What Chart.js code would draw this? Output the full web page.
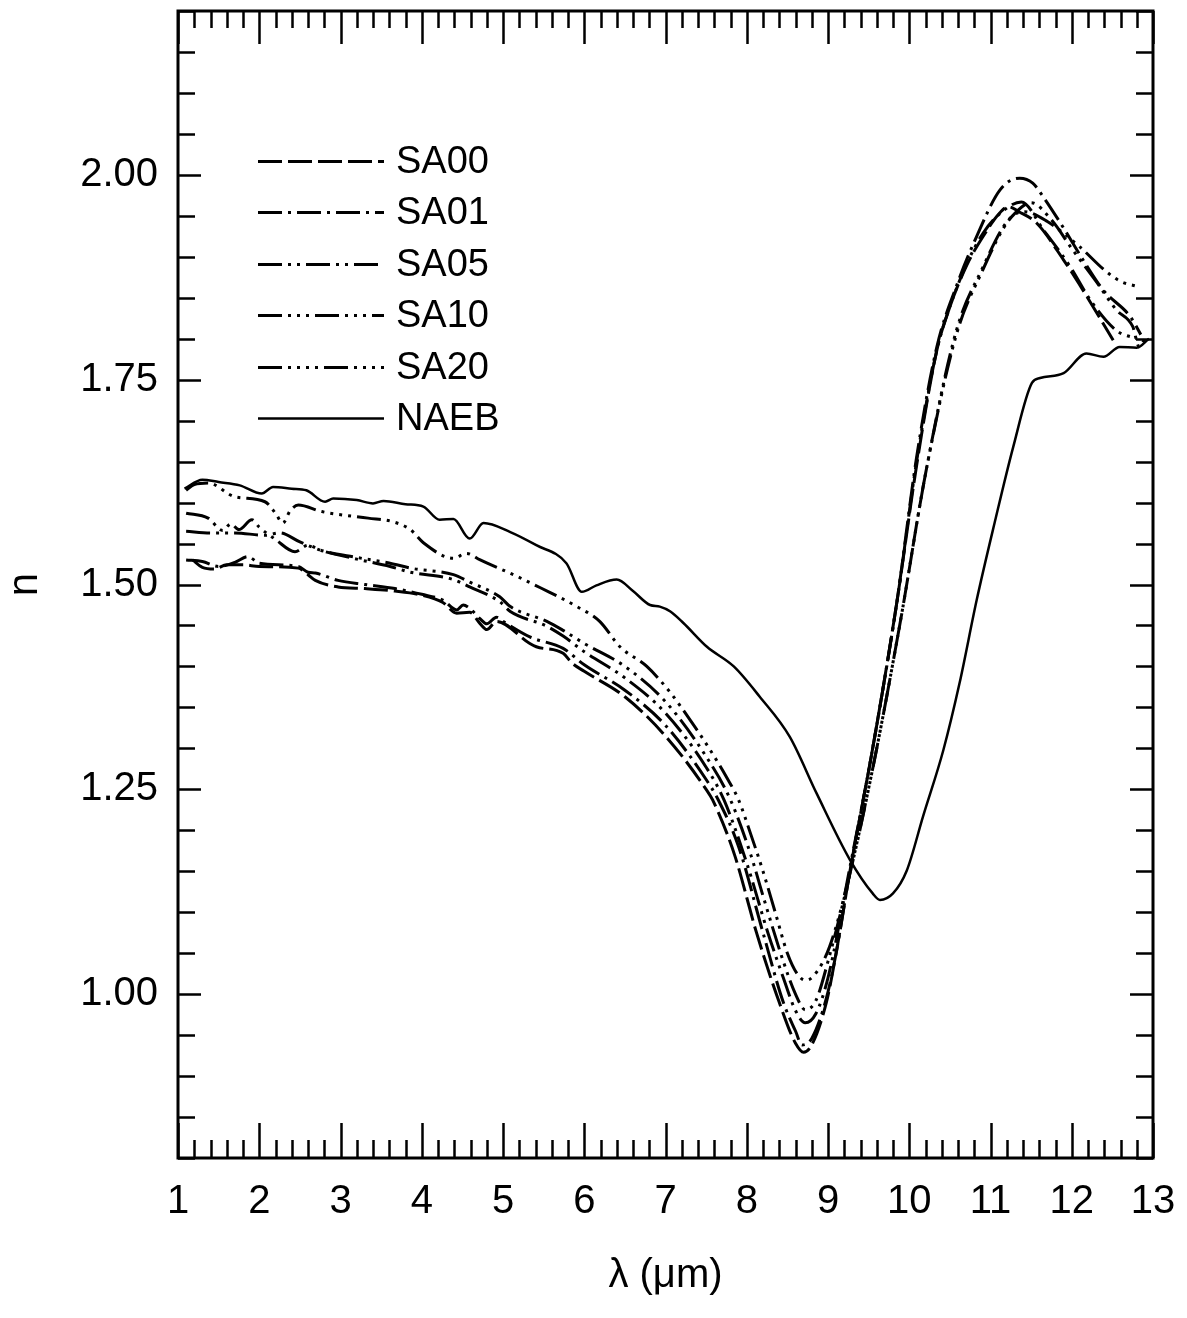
<!DOCTYPE html>
<html>
<head>
<meta charset="utf-8">
<script src="https://cdn.jsdelivr.net/npm/chart.js@4.4.0/dist/chart.umd.min.js"></script>
<style>
html,body{margin:0;padding:0;background:#fff;}
#wrap{width:1187px;height:1318px;}
</style>
</head>
<body>
<div id="wrap"><canvas id="c" width="1187" height="1318"></canvas></div>
<script>
// ---- data (wavelength in µm, refractive index n) ----
const seriesNames = ['SA00', 'SA01', 'SA05', 'SA10', 'SA20', 'NAEB'];
const xTickLabels = [1, 2, 3, 4, 5, 6, 7, 8, 9, 10, 11, 12, 13];
const yTickLabels = [1.00, 1.25, 1.50, 1.75, 2.00];

const SA00 = [[1.18,1.530],[1.3,1.521],[1.45,1.519],[1.6,1.524],[1.8,1.524],[2.0,1.522],[2.48,1.520],[2.6,1.512],[2.69,1.505],[2.97,1.497],[3.3,1.495],[3.67,1.492],[4.0,1.487],[4.26,1.478],[4.43,1.465],[4.59,1.466],[4.72,1.452],[4.8,1.445],[4.92,1.455],[5.33,1.428],[5.41,1.424],[5.74,1.416],[5.85,1.404],[6.0,1.394],[6.5,1.363],[7.0,1.315],[7.5,1.250],[7.58,1.237],[7.85,1.170],[8.12,1.075],[8.4,0.990],[8.6,0.940],[8.7,0.929],[8.8,0.938],[8.98,0.990],[9.1,1.050],[9.27,1.150],[9.55,1.300],[9.85,1.480],[10.09,1.645],[10.34,1.786],[10.5,1.839],[10.71,1.890],[10.91,1.925],[11.1,1.952],[11.22,1.961],[11.35,1.955],[11.57,1.941],[11.9,1.896],[12.14,1.859],[12.51,1.798]];

const SA01 = [[1.1,1.530],[1.3,1.528],[1.5,1.522],[1.7,1.527],[1.86,1.534],[2.0,1.526],[2.48,1.522],[2.6,1.515],[2.69,1.514],[2.97,1.505],[3.3,1.500],[3.67,1.495],[4.0,1.488],[4.26,1.481],[4.43,1.469],[4.51,1.475],[4.59,1.471],[4.72,1.458],[4.8,1.452],[4.92,1.460],[5.0,1.455],[5.33,1.436],[5.74,1.422],[6.0,1.402],[6.5,1.371],[7.0,1.328],[7.5,1.262],[7.65,1.237],[7.9,1.180],[8.2,1.075],[8.45,0.990],[8.6,0.955],[8.68,0.938],[8.8,0.946],[8.98,0.995],[9.1,1.050],[9.27,1.150],[9.55,1.300],[9.85,1.480],[10.09,1.655],[10.34,1.790],[10.58,1.864],[10.83,1.925],[11.12,1.982],[11.36,1.996],[11.52,1.990],[11.65,1.973],[11.9,1.935],[12.14,1.896],[12.39,1.859],[12.72,1.827],[12.85,1.805]];

const SA05 = [[1.1,1.565],[1.4,1.563],[1.7,1.563],[2.07,1.560],[2.25,1.563],[2.5,1.552],[2.75,1.542],[3.2,1.531],[3.61,1.522],[3.86,1.515],[4.39,1.506],[4.59,1.497],[4.96,1.479],[5.09,1.467],[5.54,1.449],[5.74,1.437],[6.0,1.418],[6.5,1.386],[7.0,1.343],[7.5,1.277],[7.72,1.237],[8.0,1.160],[8.26,1.075],[8.45,1.020],[8.6,0.980],[8.72,0.965],[8.85,0.976],[9.0,1.020],[9.27,1.155],[9.55,1.300],[9.85,1.480],[10.09,1.650],[10.34,1.786],[10.5,1.839],[10.71,1.892],[10.91,1.929],[11.12,1.953],[11.38,1.967],[11.65,1.933],[11.98,1.888],[12.23,1.847],[12.55,1.810],[12.8,1.800]];

const SA10 = [[1.1,1.587],[1.37,1.581],[1.55,1.566],[1.65,1.574],[1.75,1.567],[1.91,1.579],[2.0,1.570],[2.2,1.555],[2.44,1.540],[2.6,1.548],[2.75,1.542],[3.2,1.533],[3.61,1.526],[3.86,1.520],[4.39,1.512],[4.59,1.503],[4.96,1.485],[5.09,1.473],[5.54,1.455],[5.74,1.444],[6.0,1.428],[6.5,1.400],[7.0,1.357],[7.5,1.290],[7.8,1.237],[8.05,1.170],[8.2,1.120],[8.45,1.040],[8.6,1.000],[8.72,0.981],[8.85,0.992],[9.0,1.040],[9.3,1.160],[9.6,1.300],[9.9,1.460],[10.2,1.635],[10.58,1.805],[10.91,1.885],[11.16,1.935],[11.3,1.953],[11.5,1.966],[11.75,1.945],[12.0,1.910],[12.3,1.870],[12.55,1.835],[12.75,1.815],[12.83,1.790],[12.9,1.800]];

const SA20 = [[1.1,1.615],[1.2,1.622],[1.37,1.624],[1.7,1.607],[2.07,1.601],[2.2,1.587],[2.29,1.575],[2.38,1.590],[2.48,1.597],[2.77,1.589],[3.34,1.581],[3.63,1.577],[3.86,1.567],[4.02,1.551],[4.39,1.532],[4.55,1.538],[4.72,1.530],[5.17,1.510],[5.46,1.496],[5.91,1.473],[6.19,1.455],[6.44,1.424],[6.77,1.400],[7.06,1.368],[7.3,1.335],[7.55,1.298],[7.75,1.265],[7.9,1.237],[8.05,1.195],[8.2,1.150],[8.35,1.100],[8.5,1.050],[8.62,1.025],[8.72,1.017],[8.82,1.022],[9.02,1.058],[9.3,1.160],[9.6,1.300],[9.9,1.460],[10.2,1.635],[10.58,1.810],[10.91,1.888],[11.16,1.937],[11.3,1.952],[11.42,1.955],[11.7,1.943],[12.1,1.912],[12.4,1.884],[12.6,1.870],[12.8,1.864]];

const NAEB = [[1.08,1.617],[1.3,1.628],[1.5,1.625],[1.76,1.621],[2.03,1.611],[2.17,1.619],[2.4,1.617],[2.58,1.615],[2.81,1.601],[2.91,1.605],[3.2,1.603],[3.4,1.599],[3.53,1.602],[3.8,1.598],[4.02,1.595],[4.22,1.579],[4.39,1.580],[4.59,1.556],[4.76,1.575],[5.09,1.564],[5.41,1.548],[5.78,1.526],[5.97,1.491],[6.15,1.499],[6.4,1.506],[6.6,1.492],[6.81,1.475],[6.93,1.473],[7.06,1.467],[7.22,1.453],[7.51,1.424],[7.84,1.400],[8.16,1.363],[8.53,1.314],[8.86,1.245],[9.27,1.164],[9.55,1.123],[9.64,1.115],[9.8,1.123],[9.97,1.151],[10.17,1.217],[10.42,1.298],[10.62,1.380],[10.83,1.481],[11.05,1.575],[11.28,1.668],[11.51,1.746],[11.61,1.752],[11.9,1.758],[12.18,1.782],[12.39,1.778],[12.59,1.790],[12.8,1.789],[12.95,1.800]];

const seriesData = [SA00, SA01, SA05, SA10, SA20, NAEB];

// ---- styles ----
const dashes = [
  [24, 6],
  [24, 6, 3, 6],
  [24, 6, 3, 6, 3, 6],
  [24, 6, 3, 6, 3, 6, 3, 6],
  [24, 6, 3, 6, 3, 6, 3, 6, 3, 6],
  []
];
const FONT = "'Liberation Sans', Arial, Helvetica, sans-serif";

const datasets = seriesNames.map((name, i) => ({
  label: name,
  data: seriesData[i].map(p => ({x: p[0], y: p[1]})),
  showLine: true,
  borderColor: '#000',
  backgroundColor: '#000',
  borderWidth: i === 5 ? 2.5 : 3,
  borderDash: dashes[i],
  borderCapStyle: 'butt',
  pointRadius: 0,
  cubicInterpolationMode: 'monotone',
  fill: false
}));

const decor = {
  id: 'decor',
  afterDatasetsDraw(chart) {
    const {ctx, chartArea: a, scales} = chart;
    const x = scales.x, y = scales.y;
    ctx.save();
    ctx.strokeStyle = '#000';
    ctx.setLineDash([]);
    ctx.lineWidth = 3;
    ctx.strokeRect(a.left, a.top, a.right - a.left, a.bottom - a.top);
    ctx.lineWidth = 2.5;
    ctx.beginPath();
    const xMin = xTickLabels[0], xMax = xTickLabels[xTickLabels.length - 1];
    const nx = Math.round((xMax - xMin) / 0.2);
    for (let i = 0; i <= nx; i++) {
      const v = xMin + i * 0.2;
      const px = Math.round(x.getPixelForValue(v)) + 0.5;
      const major = i % 5 === 0;
      ctx.moveTo(px, a.bottom); ctx.lineTo(px, a.bottom - (major ? 35 : 18));
      ctx.moveTo(px, a.top); ctx.lineTo(px, a.top + (major ? 33 : 17));
    }
    const ny = Math.round((y.max - y.min) / 0.05);
    for (let i = 0; i <= ny; i++) {
      const v = y.min + i * 0.05;
      const py = Math.round(y.getPixelForValue(v)) + 0.5;
      const major = yTickLabels.some(t => Math.abs(t - v) < 1e-6);
      const l = major ? 23 : 17;
      ctx.moveTo(a.left, py); ctx.lineTo(a.left + l, py);
      ctx.moveTo(a.right, py); ctx.lineTo(a.right - l, py);
    }
    ctx.stroke();

    // legend (inside plot, upper left)
    ctx.font = '38px ' + FONT;
    ctx.fillStyle = '#000';
    ctx.textBaseline = 'middle';
    ctx.textAlign = 'left';
    const x0 = 258, x1 = 384, tx = 396, y0 = 161, dy = 51.4;
    chart.data.datasets.forEach((ds, i) => {
      const yy = Math.round(y0 + i * dy) + 0.5;
      ctx.beginPath();
      ctx.lineWidth = ds.borderWidth;
      ctx.setLineDash(ds.borderDash);
      ctx.moveTo(x0, yy); ctx.lineTo(x1, yy);
      ctx.stroke();
      ctx.setLineDash([]);
      ctx.fillText(ds.label, tx, yy + 1);
    });
    ctx.restore();
  }
};

new Chart(document.getElementById('c'), {
  type: 'scatter',
  data: { datasets },
  plugins: [decor],
  options: {
    responsive: false,
    devicePixelRatio: 1,
    animation: false,
    layout: { padding: { left: 0, top: 11, right: 34, bottom: 0 } },
    plugins: { legend: { display: false }, tooltip: { enabled: false } },
    scales: {
      x: {
        type: 'linear',
        min: 1, max: 13,
        grid: { display: false },
        border: { display: false },
        afterBuildTicks: s => { s.ticks = xTickLabels.map(v => ({value: v})); },
        afterFit: s => { s.height = 160; s.paddingLeft = 0; s.paddingRight = 0; },
        ticks: {
          color: '#000', padding: 12, maxRotation: 0, autoSkip: false,
          font: { family: FONT, size: 40 },
          callback: v => String(v)
        },
        title: {
          display: true, text: 'λ (μm)', color: '#000',
          font: { family: FONT, size: 40 }, padding: { top: 0, bottom: 18 }
        }
      },
      y: {
        type: 'linear',
        min: 0.8, max: 2.2,
        grid: { display: false },
        border: { display: false },
        afterBuildTicks: s => { s.ticks = yTickLabels.map(v => ({value: v})); },
        afterFit: s => { s.width = 178; s.paddingTop = 0; s.paddingBottom = 0; },
        ticks: {
          color: '#000', padding: 12, autoSkip: false,
          font: { family: FONT, size: 40 },
          callback: v => Number(v).toFixed(2)
        },
        title: {
          display: true, text: 'n', color: '#000',
          font: { family: FONT, size: 42 }, padding: { top: 0, bottom: 0 }
        }
      }
    }
  }
});
</script>
</body>
</html>
